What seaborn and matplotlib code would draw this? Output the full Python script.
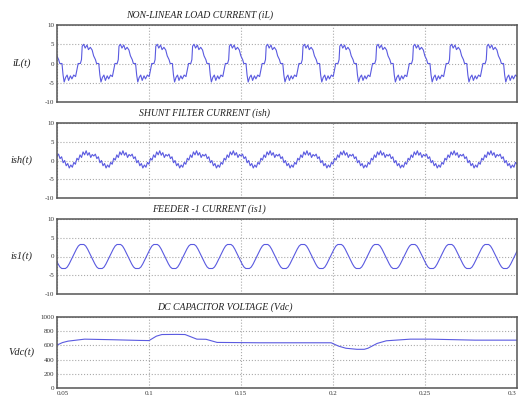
import numpy as np
import pandas as pd
import matplotlib
matplotlib.use("Agg")
import matplotlib.pyplot as plt
import seaborn as sns

# ---------------- data ----------------
period = 0.02              # 50 Hz fundamental
t_start, t_end = 0.05, 0.3

# Non-linear load current: one steady-state cycle (phase 0..1, value in A)
il_phase = [0.00, 0.03, 0.06, 0.10, 0.14, 0.18, 0.23, 0.27, 0.32, 0.37, 0.41, 0.44,
            0.50, 0.53, 0.55, 0.59, 0.63, 0.68, 0.72, 0.77, 0.82, 0.86, 0.91, 0.94]
il_cycle = [0.0, -3.0, -4.8, -3.6, -3.0, -4.4, -3.2, -4.0, -3.0, -3.4, -1.5, 0.0,
            0.0, 1.0, 4.5, 5.0, 4.0, 4.8, 3.6, 4.2, 3.5, 2.0, 1.0, 0.0]
il_t0 = 0.0527

# Shunt filter current: one cycle
ish_phase = [0.000, 0.042, 0.083, 0.125, 0.167, 0.208, 0.250, 0.292, 0.333, 0.375, 0.417, 0.458,
             0.500, 0.542, 0.583, 0.625, 0.667, 0.708, 0.750, 0.792, 0.833, 0.875, 0.917, 0.958]
ish_cycle = [1.2, 1.7, 0.5, 1.0, -0.6, 0.0, -1.4, -0.8, -2.0, -1.2, -1.8, -0.5,
             -1.0, 0.6, 0.1, 1.5, 0.8, 2.3, 1.5, 2.6, 1.4, 2.1, 0.8, 1.6]
ish_t0 = 0.05

# Feeder-1 current: one cycle (starts at trough)
is1_phase = [0.00, 0.05, 0.10, 0.15, 0.20, 0.25, 0.30, 0.35, 0.40, 0.45,
             0.50, 0.55, 0.60, 0.65, 0.70, 0.75, 0.80, 0.85, 0.90, 0.95]
is1_cycle = [-3.2, -3.2, -2.8, -2.0, -1.0, 0.0, 1.0, 2.0, 2.8, 3.2,
             3.2, 3.2, 2.8, 2.0, 1.0, 0.0, -1.0, -2.0, -2.8, -3.2]
is1_t0 = 0.0536

# DC capacitor voltage
vdc_t = [0.050, 0.053, 0.056, 0.065, 0.080, 0.095, 0.100, 0.104, 0.107, 0.115, 0.1196,
         0.126, 0.131, 0.137, 0.160, 0.199, 0.203, 0.207, 0.213, 0.217, 0.219, 0.224,
         0.229, 0.242, 0.253, 0.277, 0.300]
vdc_v = [605, 640, 660, 688, 680, 670, 668, 730, 753, 755, 753,
         688, 686, 642, 637, 637, 590, 560, 545, 545, 560, 628,
         665, 688, 688, 674, 674]

titles = ["NON-LINEAR LOAD CURRENT (iL)", "SHUNT FILTER CURRENT (ish)",
          "FEEDER -1 CURRENT (is1)", "DC CAPACITOR VOLTAGE (Vdc)"]
ylabels = ["iL(t)", "ish(t)", "is1(t)", "Vdc(t)"]
cur_ticks = [-10, -5, 0, 5, 10]
vdc_ticks = [0, 200, 400, 600, 800, 1000]
x_ticks = [0.05, 0.1, 0.15, 0.2, 0.25, 0.3]
x_ticklabels = ["0.05", "0.1", "0.15", "0.2", "0.25", "0.3"]


def periodic_frame(phase, cycle, t0):
    ph = np.asarray(phase)
    vals = np.asarray(cycle)
    ts, vs = [], []
    for k in range(-2, 15):
        ts.append(t0 + (k + ph) * period)
        vs.append(vals)
    t = np.concatenate(ts)
    v = np.concatenate(vs)
    m = (t >= t_start - 0.002) & (t <= t_end + 0.002)
    return pd.DataFrame({"t": t[m], "v": v[m]})


frames = [periodic_frame(il_phase, il_cycle, il_t0),
          periodic_frame(ish_phase, ish_cycle, ish_t0),
          periodic_frame(is1_phase, is1_cycle, is1_t0),
          pd.DataFrame({"t": vdc_t, "v": vdc_v})]

# ---------------- plot ----------------
sns.set_theme(style="white")
plt.rcParams["font.family"] = ["Liberation Serif", "DejaVu Serif"]

fig = plt.figure(figsize=(5.19, 4.05), dpi=100)
W, H = 519.0, 405.0
left = 57 / W
width = 460 / W
boxes = [(25, 102), (123, 198), (219, 294), (317, 388)]
title_x = [0.31, 0.32, 0.33, 0.365]
line_color = "#5a5ae0"

for i, (top, bot) in enumerate(boxes):
    ax = fig.add_axes([left, 1 - bot / H, width, (bot - top) / H])
    sns.lineplot(data=frames[i], x="t", y="v", ax=ax, color=line_color,
                 linewidth=0.8, estimator=None, sort=False)
    ax.set_xlim(t_start, t_end)
    ax.set_xticks(x_ticks)
    if i < 3:
        ax.set_ylim(-10, 10)
        ax.set_yticks(cur_ticks)
        ax.set_yticklabels([str(v) for v in cur_ticks])
    else:
        ax.set_ylim(0, 1000)
        ax.set_yticks(vdc_ticks)
        ax.set_yticklabels([str(v) for v in vdc_ticks])
    if i == 3:
        labels = ax.set_xticklabels(x_ticklabels)
        labels[-1].set_horizontalalignment("right")
        labels[0].set_horizontalalignment("left")
    else:
        ax.set_xticklabels([])
    ax.set_xlabel("")
    ax.set_ylabel("")
    ax.grid(True, linestyle=":", color="#aaaaaa", linewidth=0.8)
    ax.tick_params(direction="in", length=3, width=0.8, labelsize=5,
                   colors="#333333", pad=2)
    for sp in ax.spines.values():
        sp.set_color("#555555")
        sp.set_linewidth(1.1)
    ax.text(title_x[i], 1.07, titles[i], transform=ax.transAxes,
            ha="center", va="bottom", fontsize=7, style="italic",
            color="#222222")
    ax.text(-0.077, 0.5, ylabels[i], transform=ax.transAxes,
            ha="center", va="center", fontsize=7.5, style="italic",
            color="#222222")

fig.savefig("out.png", dpi=100)
